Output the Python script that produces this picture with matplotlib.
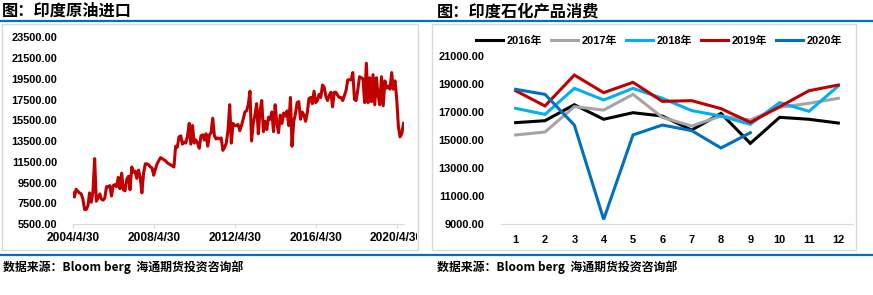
import matplotlib
matplotlib.use('Agg')
import matplotlib.pyplot as plt
import pandas as pd
from matplotlib.patches import Rectangle
from matplotlib.lines import Line2D
from matplotlib.transforms import Bbox, TransformedBbox

# ---------------- data ----------------
import_start = '2004-04-30'
crude_imports = [
    8500, 8100, 8850, 8650, 8500, 8400, 7900, 6900, 6900, 7300, 8500, 7600,
    8600, 11800, 7700, 8000, 8400, 7900, 7800, 8000, 9100, 9100, 9200, 8200,
    9200, 9300, 9100, 10000, 8900, 10400, 8800, 8700, 9800, 10100, 8800, 11000,
    10500, 10600, 9900, 10700, 10000, 8500, 10400, 11300, 11300, 11200, 11000, 10900,
    10200, 10800, 11300, 11600, 11900, 11800, 11700, 11600, 11400, 11300, 11200, 11100,
    11000, 13000, 12900, 13900, 14000, 13200, 13400, 13300, 14000, 15200, 13200, 15000,
    13300, 13600, 13300, 12800, 14000, 14100, 13600, 14200, 13000, 14100, 14300, 15700,
    14000, 13700, 13800, 13700, 13800, 12600, 12900, 13300, 14500, 17000, 13300, 15200,
    15000, 15000, 15100, 14500, 15000, 15600, 16300, 16400, 17000, 18300, 13500, 15200,
    16000, 17100, 14200, 16400, 17400, 14400, 15400, 14600, 15800, 15600, 16300, 14400,
    17000, 15200, 14300, 16000, 15200, 16200, 15900, 16400, 15000, 17700, 13000, 15400,
    16100, 17200, 17300, 15600, 16300, 16000, 15400, 16200, 17600, 17700, 17100, 18300,
    17200, 17400, 18000, 17700, 18900, 18700, 17800, 17400, 17900, 18200, 16800, 18200,
    18200, 17900, 17700, 17700, 17400, 17900, 18400, 19400, 19400, 19400, 20100, 17500,
    17400, 18500, 19700, 19600, 19500, 17200, 21000, 17200, 19600, 17300, 19900, 17000,
    19600, 17900, 17000, 19700, 16900, 19300, 18600, 18800, 18500, 20100, 18500, 19300,
    17600, 14900, 13900, 14200, 15200,
]
left_xtick_dates = ['2004-04-30', '2008-04-30', '2012-04-30', '2016-04-30', '2020-04-30']
left_xtick_labels = ['2004/4/30', '2008/4/30', '2012/4/30', '2016/4/30', '2020/4/30']
left_yticks = [5500, 7500, 9500, 11500, 13500, 15500, 17500, 19500, 21500, 23500]

months = list(range(1, 13))
cons_2016 = [16240, 16380, 17520, 16480, 16950, 16710, 15710, 16900, 14760, 16620, 16480, 16210]
cons_2017 = [15360, 15570, 17380, 17140, 18260, 16620, 16000, 16710, 16430, 17330, 17620, 17980]
cons_2018 = [17260, 16830, 18690, 17860, 18690, 17980, 17100, 16710, 16120, 17670, 17050, 18860]
cons_2019 = [18520, 17430, 19640, 18380, 19120, 17760, 17810, 17240, 16260, 17380, 18520, 18930]
cons_2020 = [18620, 18260, 16070, 9330, 15360, 16070, 15670, 14430, 15520]
series_names = ['2016年', '2017年', '2018年', '2019年', '2020年']
series_colors = ['#000000', '#A5A5A5', '#00B0F0', '#C00000', '#0070C0']
right_yticks = [9000, 11000, 13000, 15000, 17000, 19000, 21000]

title_left = '图：印度原油进口'
title_right = '图：印度石化产品消费'
source_text = '数据来源：Bloom berg  海通期货投资咨询部'

# ---------------- layout ----------------
W, H = 873, 295
fig = plt.figure(figsize=(W / 100, H / 100), dpi=100)


def fx(x):
    return x / W


def fy(y):
    return 1 - y / H


NUM_FONT = ['Liberation Sans', 'Noto Sans CJK SC', 'DejaVu Sans']
CJK_FONT = ['Noto Sans CJK SC', 'DejaVu Sans']
GRID = '#D9D9D9'

# frames
fig.add_artist(Rectangle((fx(2), fy(250)), (418 - 2) / W, (250 - 24) / H,
                         transform=fig.transFigure, fill=False, edgecolor=GRID, lw=1))
fig.add_artist(Rectangle((fx(432), fy(250)), (856 - 432) / W, (250 - 24) / H,
                         transform=fig.transFigure, fill=False, edgecolor=GRID, lw=1))
# blue rules
fig.add_artist(Line2D([0, 1], [fy(20.5)] * 2, transform=fig.transFigure, color='#0070C0', lw=1.6))
fig.add_artist(Line2D([0, 1], [fy(255)] * 2, transform=fig.transFigure, color='#0070C0', lw=1.6))

# titles and sources
fig.text(fx(2), fy(11), title_left, fontsize=11.7, fontweight='bold', family=CJK_FONT,
         va='center', ha='left')
fig.text(fx(437), fy(11), title_right, fontsize=11.7, fontweight='bold', family=CJK_FONT,
         va='center', ha='left')
fig.text(fx(3), fy(267), source_text, fontsize=8.6, fontweight='bold', family=CJK_FONT,
         va='center', ha='left')
fig.text(fx(437), fy(267), source_text, fontsize=8.6, fontweight='bold', family=CJK_FONT,
         va='center', ha='left')

# ---------------- left chart ----------------
dates = pd.date_range(import_start, periods=len(crude_imports), freq='ME')
axL = fig.add_axes([fx(72.7), fy(224), (403.5 - 72.7) / W, (224 - 37.3) / H])
axL.plot(dates, crude_imports, color='#C00000', lw=2.2, solid_joinstyle='round')
axL.set_xlim(dates[0], dates[-1])
axL.set_ylim(left_yticks[0], left_yticks[-1])
axL.set_xticks(pd.to_datetime(left_xtick_dates))
axL.set_xticklabels(left_xtick_labels)
axL.set_yticks(left_yticks)
axL.set_yticklabels([f'{v:.2f}' for v in left_yticks])
for s in ['top', 'right', 'left']:
    axL.spines[s].set_visible(False)
axL.spines['bottom'].set_color(GRID)
axL.tick_params(axis='x', length=3, color=GRID, pad=3)
axL.tick_params(axis='y', length=0, pad=11)
clip = TransformedBbox(Bbox([[0, 0], [417 / W, 1]]), fig.transFigure)
for lbl in axL.get_yticklabels():
    lbl.set_fontfamily(NUM_FONT)
    lbl.set_fontweight('bold')
    lbl.set_fontsize(7.9)
for lbl in axL.get_xticklabels():
    lbl.set_fontfamily(NUM_FONT)
    lbl.set_fontweight('bold')
    lbl.set_fontsize(8.6)
    lbl.set_clip_box(clip)
    lbl.set_clip_on(True)

# ---------------- right chart ----------------
axR = fig.add_axes([fx(501), fy(224), (853 - 501) / W, (224 - 56) / H])
all_series = [cons_2016, cons_2017, cons_2018, cons_2019, cons_2020]
for vals, name, col in zip(all_series, series_names, series_colors):
    axR.plot(months[:len(vals)], vals, color=col, lw=2.2, label=name, solid_joinstyle='miter')
axR.set_xlim(0.5, 12.5)
axR.set_ylim(right_yticks[0], right_yticks[-1])
axR.set_xticks(months)
axR.set_xticklabels([str(m) for m in months])
axR.set_yticks(right_yticks)
axR.set_yticklabels([f'{v:.2f}' for v in right_yticks])
for s in ['top', 'right', 'left']:
    axR.spines[s].set_visible(False)
axR.spines['bottom'].set_color(GRID)
axR.tick_params(axis='x', length=0, pad=8)
axR.tick_params(axis='y', length=0, pad=12)
for lbl in axR.get_xticklabels() + axR.get_yticklabels():
    lbl.set_fontfamily(NUM_FONT)
    lbl.set_fontweight('bold')
    lbl.set_fontsize(7.9)

leg = axR.legend(loc='center left', bbox_to_anchor=(fx(476), fy(41)),
                 bbox_transform=fig.transFigure, ncol=5, frameon=False,
                 handlelength=2.5, handletextpad=0.3, columnspacing=0.8,
                 borderpad=0, borderaxespad=0,
                 prop={'family': NUM_FONT, 'weight': 'bold', 'size': 7.9})

fig.savefig('out.png', dpi=100)
